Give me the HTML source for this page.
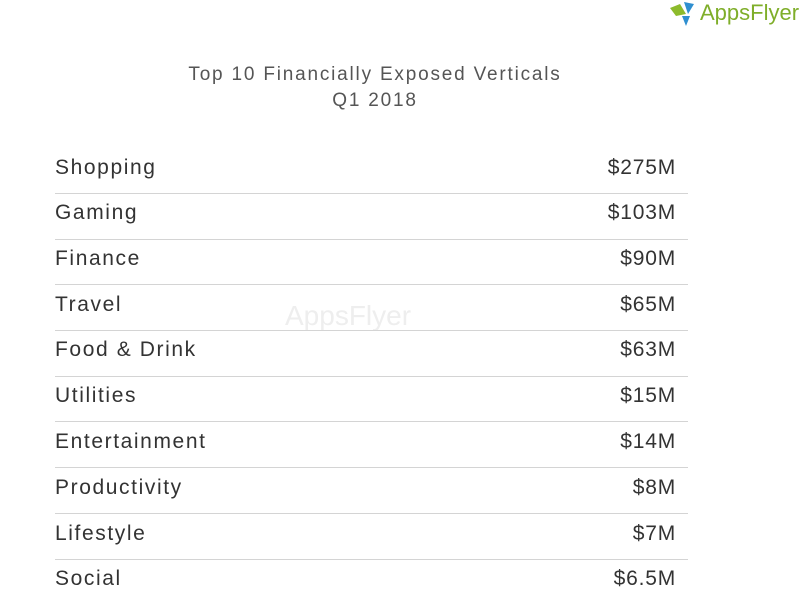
<!DOCTYPE html>
<html><head><meta charset="utf-8"><style>
body{margin:0;width:800px;height:595px;background:#fff;position:relative;overflow:hidden;font-family:"Liberation Sans",sans-serif;color:#333}
.t{position:absolute;left:0;width:750px;text-align:center;font-size:19px;color:#555;letter-spacing:1.8px}
.row{position:absolute;left:55px;width:633px;height:46px}
.row span{position:absolute;top:0;font-size:21px;line-height:20px}
.l{left:0;letter-spacing:1.6px}.r{right:12px;letter-spacing:0.8px}
.line{position:absolute;left:55px;width:633px;height:1px;background:#d4d4d4}
</style></head><body>
<div style="position:absolute;left:670px;top:2px;width:28px;height:26px">
<svg width="30" height="28"><polygon points="0,6 10,2 16,12 6,14" fill="#8dbb2c"/><polygon points="14,0 24,2 18,12" fill="#2f8fd0"/><polygon points="12,14 20,14 16,24" fill="#2f8fd0"/></svg></div>
<div style="position:absolute;left:700px;top:0px;font-size:22px;color:#7fae2a">AppsFlyer</div>
<div style="position:absolute;left:285px;top:300px;font-size:28px;color:#eee">AppsFlyer</div>
<div class="t" style="top:64px">Top 10 Financially Exposed Verticals</div>
<div class="t" style="top:90px">Q1 2018</div>
<div class="row" style="top:158px"><span class="l">Shopping</span><span class="r">$275M</span></div>
<div class="line" style="top:193px"></div>
<div class="row" style="top:203px"><span class="l">Gaming</span><span class="r">$103M</span></div>
<div class="line" style="top:239px"></div>
<div class="row" style="top:249px"><span class="l">Finance</span><span class="r">$90M</span></div>
<div class="line" style="top:284px"></div>
<div class="row" style="top:295px"><span class="l">Travel</span><span class="r">$65M</span></div>
<div class="line" style="top:330px"></div>
<div class="row" style="top:340px"><span class="l">Food &amp; Drink</span><span class="r">$63M</span></div>
<div class="line" style="top:376px"></div>
<div class="row" style="top:386px"><span class="l">Utilities</span><span class="r">$15M</span></div>
<div class="line" style="top:421px"></div>
<div class="row" style="top:432px"><span class="l">Entertainment</span><span class="r">$14M</span></div>
<div class="line" style="top:467px"></div>
<div class="row" style="top:478px"><span class="l">Productivity</span><span class="r">$8M</span></div>
<div class="line" style="top:513px"></div>
<div class="row" style="top:524px"><span class="l">Lifestyle</span><span class="r">$7M</span></div>
<div class="line" style="top:559px"></div>
<div class="row" style="top:569px"><span class="l">Social</span><span class="r">$6.5M</span></div>
</body></html>
